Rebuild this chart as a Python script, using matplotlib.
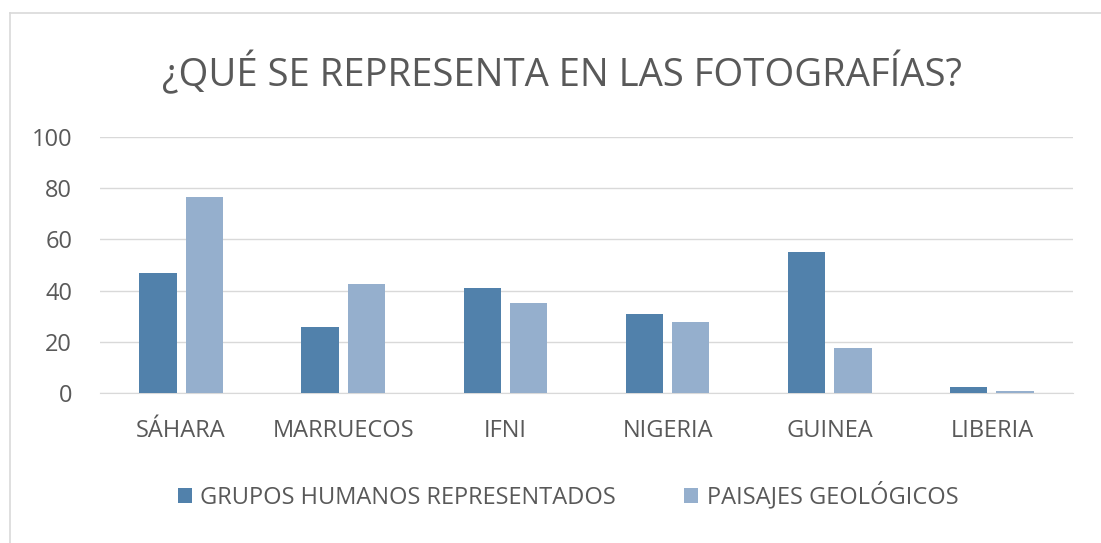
import matplotlib
matplotlib.use("Agg")
import matplotlib.pyplot as plt
import numpy as np
from matplotlib.lines import Line2D

categories = ["SÁHARA", "MARRUECOS", "IFNI", "NIGERIA", "GUINEA", "LIBERIA"]
grupos = [46.7, 25.8, 41.0, 30.8, 55.2, 2.3]
paisajes = [76.7, 42.5, 35.2, 27.8, 17.5, 0.8]
series_names = ["GRUPOS HUMANOS REPRESENTADOS", "PAISAJES GEOLÓGICOS"]
yticks = [0, 20, 40, 60, 80, 100]

plt.rcParams['font.family'] = ['Open Sans', 'DejaVu Sans']
text_color = "#595959"
c_dark = "#5181AB"
c_light = "#95AFCD"

fig = plt.figure(figsize=(11.01, 5.43), dpi=100)
# chart frame: only top and left edges visible
fig.lines.append(Line2D([10/1101, 1], [1-13/543, 1-13/543], transform=fig.transFigure,
                        color="#D9D9D9", linewidth=1.2))
fig.lines.append(Line2D([10/1101, 10/1101], [0, 1-13/543], transform=fig.transFigure,
                        color="#D9D9D9", linewidth=1.2))

ax = fig.add_axes([100/1101, 1-392.7/543, 973/1101, (392.7-137.3)/543])

x = np.arange(len(categories))
w = 0.23
gap = 9/162
ax.bar(x - (w+gap)/2, grupos, w, color=c_dark, label=series_names[0], zorder=3)
ax.bar(x + (w+gap)/2, paisajes, w, color=c_light, label=series_names[1], zorder=3)

ax.set_xlim(-0.5, len(categories)-0.5)
ax.set_ylim(0, 100)
ax.set_yticks(yticks)
ax.set_yticklabels([str(t) for t in yticks])
ax.set_xticks(x)
ax.set_xticklabels(categories)
ax.tick_params(axis='both', length=0, labelsize=17, colors=text_color)
ax.tick_params(axis='x', pad=19)
ax.tick_params(axis='y', pad=20)
ax.yaxis.grid(True, color="#D9D9D9", linewidth=1, zorder=0)
for s in ["top", "right", "left"]:
    ax.spines[s].set_visible(False)
ax.spines["bottom"].set_color("#D9D9D9")

fig.text(562/1101, 1-73/543, "¿QUÉ SE REPRESENTA EN LAS FOTOGRAFÍAS?", ha="center",
         va="center", fontsize=27.5, color=text_color)

leg = fig.legend(loc="center", bbox_to_anchor=(568/1101, 1-496/543), ncol=2,
                 frameon=False, fontsize=17, labelcolor=text_color,
                 handlelength=0.6, handleheight=0.6, handletextpad=0.35,
                 columnspacing=2.9)

fig.savefig("out.png", dpi=100)
